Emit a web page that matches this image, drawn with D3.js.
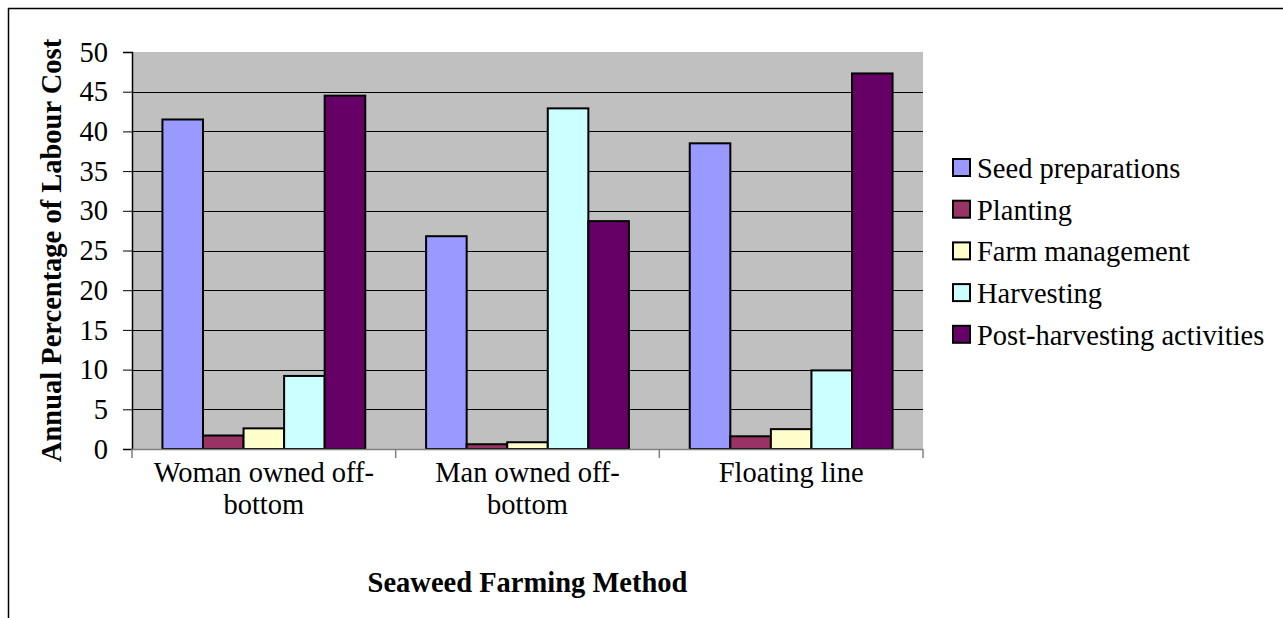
<!DOCTYPE html>
<html>
<head>
<meta charset="utf-8">
<script src="https://cdn.jsdelivr.net/npm/d3@7"></script>
<style>
  html, body { margin: 0; padding: 0; background: #fff; }
  svg { display: block; font-family: "Liberation Serif", "Times New Roman", serif; }
</style>
</head>
<body>
<div id="chart"></div>
<script>
const categories = [['Woman owned off-', 'bottom'], ['Man owned off-', 'bottom'], ['Floating line']];
const seriesNames = ['Seed preparations', 'Planting', 'Farm management', 'Harvesting', 'Post-harvesting activities'];
const seriesColors = ['#9999ff', '#993366', '#ffffcc', '#ccffff', '#660066'];
const seedPrep = [41.5, 26.8, 38.5];
const planting = [1.7, 0.6, 1.6];
const farmMgmt = [2.6, 0.85, 2.5];
const harvesting = [9.2, 42.9, 9.9];
const postHarvest = [44.5, 28.7, 47.3];
const yTicks = [0, 5, 10, 15, 20, 25, 30, 35, 40, 45, 50];

const values = [seedPrep, planting, farmMgmt, harvesting, postHarvest];

const W = 1283, H = 618;
const FS = 28.5;
const svg = d3.select('#chart').append('svg').attr('width', W).attr('height', H);

// outer frame (only top and left edges show)
svg.append('line').attr('x1', 8).attr('x2', W).attr('y1', 8.5).attr('y2', 8.5)
  .attr('stroke', '#000').attr('stroke-width', 1.5);
svg.append('line').attr('x1', 8.5).attr('x2', 8.5).attr('y1', 8).attr('y2', H)
  .attr('stroke', '#000').attr('stroke-width', 1.5);

const plot = { left: 132, right: 923, top: 52, bottom: 449 };

const x0 = d3.scaleBand().domain(d3.range(categories.length)).range([plot.left, plot.right]);
const y = d3.scaleLinear().domain([0, 50]).range([plot.bottom, plot.top]);

// gap width 150%: bar w, 5w + 1.5w = band
const barW = x0.bandwidth() / 6.5;
const barX = (ci, si) => x0(ci) + 0.75 * barW + si * barW;

svg.append('rect').attr('x', plot.left).attr('y', plot.top)
  .attr('width', plot.right - plot.left).attr('height', plot.bottom - plot.top)
  .attr('fill', '#c0c0c0');

// gridlines
svg.append('g').selectAll('line').data(yTicks.filter(t => t > 0 && t < 50)).join('line')
  .attr('x1', plot.left).attr('x2', plot.right)
  .attr('y1', d => Math.round(y(d)) + 0.5).attr('y2', d => Math.round(y(d)) + 0.5)
  .attr('stroke', '#000').attr('stroke-width', 1);

// bars
values.forEach((vals, si) => {
  svg.append('g').selectAll('rect').data(vals).join('rect')
    .attr('x', (d, ci) => barX(ci, si))
    .attr('y', d => y(d))
    .attr('width', barW)
    .attr('height', d => plot.bottom - y(d))
    .attr('fill', seriesColors[si])
    .attr('stroke', '#000').attr('stroke-width', 2);
});

// y axis
const yAxis = svg.append('g').attr('transform', `translate(${plot.left},0)`)
  .call(d3.axisLeft(y).tickValues(yTicks).tickSize(9).tickPadding(15));
yAxis.select('.domain').attr('stroke', '#000').attr('stroke-width', 1.5);
yAxis.selectAll('.tick line').attr('stroke', '#000');
yAxis.selectAll('.tick text').attr('font-size', FS).attr('font-family', 'Liberation Serif').attr('fill', '#000');

// x axis
const xAxisG = svg.append('g').attr('transform', `translate(0,${plot.bottom})`);
xAxisG.append('line').attr('x1', plot.left).attr('x2', plot.right).attr('y1', 0.5).attr('y2', 0.5)
  .attr('stroke', '#808080').attr('stroke-width', 1.5);
xAxisG.selectAll('line.tk').data(d3.range(categories.length + 1)).join('line').attr('class', 'tk')
  .attr('x1', i => plot.left + i * x0.bandwidth()).attr('x2', i => plot.left + i * x0.bandwidth())
  .attr('y1', 0).attr('y2', 9).attr('stroke', '#808080').attr('stroke-width', 1.5);

const xl = svg.append('g').selectAll('text').data(categories).join('text')
  .attr('x', (d, i) => x0(i) + x0.bandwidth() / 2)
  .attr('y', 482)
  .attr('text-anchor', 'middle')
  .attr('font-size', FS)
  .attr('fill', '#000');
xl.each(function(lines) {
  d3.select(this).selectAll('tspan').data(lines).join('tspan')
    .attr('x', d3.select(this).attr('x'))
    .attr('dy', (d, i) => i === 0 ? 0 : 32)
    .text(d => d);
});

// axis titles
svg.append('text')
  .attr('x', (plot.left + plot.right) / 2).attr('y', 592)
  .attr('text-anchor', 'middle').attr('font-size', FS).attr('font-weight', 'bold')
  .text('Seaweed Farming Method');

svg.append('text')
  .attr('transform', `translate(61,${(plot.top + plot.bottom) / 2}) rotate(-90)`)
  .attr('text-anchor', 'middle').attr('font-size', FS).attr('font-weight', 'bold')
  .text('Annual Percentage of Labour Cost');

// legend
const legend = svg.append('g').attr('transform', 'translate(953,178)');
const li = legend.selectAll('g').data(seriesNames).join('g')
  .attr('transform', (d, i) => `translate(0,${i * 41.7})`);
li.append('rect').attr('x', 0).attr('y', -19).attr('width', 17).attr('height', 17)
  .attr('fill', (d, i) => seriesColors[i]).attr('stroke', '#000').attr('stroke-width', 2);
li.append('text').attr('x', 24).attr('y', 0).attr('font-size', FS).attr('fill', '#000').text(d => d);
</script>
</body>
</html>
